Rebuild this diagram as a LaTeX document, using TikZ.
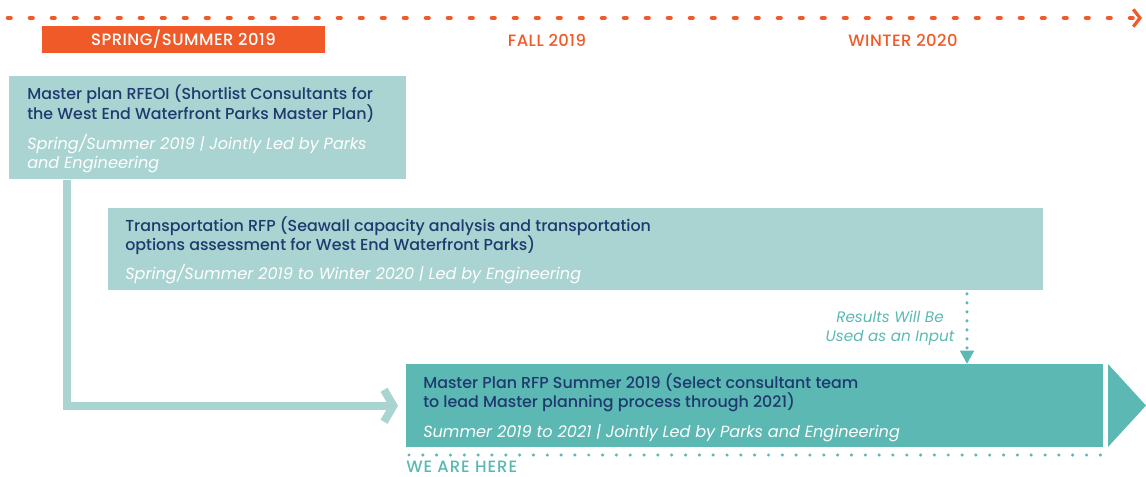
\documentclass[tikz,border=0pt]{standalone}
\usepackage{fontspec}
\setmainfont{Poppins}
\newfontfamily\medfont{Poppins Medium}
\usetikzlibrary{arrows.meta}
\definecolor{orng}{HTML}{F05A28}
\definecolor{paleteal}{HTML}{A9D4D2}
\definecolor{rfpteal}{HTML}{5BB8B3}
\definecolor{navy}{HTML}{1E3A6E}
\tikzset{
  box/.style={anchor=north west, inner sep=0pt},
  title/.style={anchor=base west, inner sep=0pt, text=navy, font=\medfont\fontsize{11.9}{15}\selectfont},
  when/.style={anchor=base west, inner sep=0pt, text=white, font=\fontsize{12.1}{15}\selectfont\itshape},
  season/.style={text=orng, font=\medfont\fontsize{12.3}{14}\selectfont\addfontfeatures{LetterSpace=3}},
  feed/.style={paleteal, line width=6pt, -{Straight Barb[length=7pt,width=24pt]}},
  inputlink/.style={rfpteal, line width=2.6pt, line cap=round, dash pattern=on 0pt off 6.75pt, -{Triangle[length=10pt,width=10pt]}},
}
\begin{document}
\begin{tikzpicture}[x=0.75pt,y=-0.75pt]
  \useasboundingbox (0,0) rectangle (1146,476);
  % timeline
  \coordinate (t0) at (8,18);
  \coordinate (t1) at (1142,18);
  \draw[orng, line width=3.4pt, line cap=round, dash pattern=on 1.9pt off 14.6pt,
    -{Straight Barb[length=5pt,width=13pt,line width=2.4pt]}] (t0) -- (t1);
  \node[fill=orng, text=white, inner sep=0pt, minimum width={283*0.75pt}, minimum height={27*0.75pt},
    font=\medfont\fontsize{12.3}{14}\selectfont\addfontfeatures{LetterSpace=3}] (spring) at (183.5,39.5) {SPRING/SUMMER 2019};
  \node[season] (fall) at (547,40) {FALL 2019};
  \node[season] (winter) at (903,40) {WINTER 2020};
  % boxes
  \node[box, fill=paleteal, minimum width={397*0.75pt}, minimum height={103*0.75pt}] (rfeoi) at (9,76) {};
  \node[title] (rfeoi1) at (27,99) {Master plan RFEOI (Shortlist Consultants for};
  \node[title] (rfeoi2) at (27,119) {the West End Waterfront Parks Master Plan)};
  \node[when] (rfeoi3) at (27,149) {Spring/Summer 2019 | Jointly Led by Parks};
  \node[when] (rfeoi4) at (27,168) {and Engineering};
  \node[box, fill=paleteal, minimum width={935*0.75pt}, minimum height={82*0.75pt}] (trans) at (108,208) {};
  \node[title] (trans1) at (125,231) {Transportation RFP (Seawall capacity analysis and transportation};
  \node[title] (trans2) at (125,250) {options assessment for West End Waterfront Parks)};
  \node[when] (trans3) at (125,279) {Spring/Summer 2019 to Winter 2020 | Led by Engineering};
  \node[box, fill=rfpteal, minimum width={697*0.75pt}, minimum height={83*0.75pt}] (rfp) at (406,364) {};
  \node[title] (rfp1) at (423,388) {Master Plan RFP Summer 2019 (Select consultant team};
  \node[title] (rfp2) at (423,407) {to lead Master planning process through 2021)};
  \node[when] (rfp3) at (423,437) {Summer 2019 to 2021 | Jointly Led by Parks and Engineering};
  \fill[rfpteal] (1108,364) -- (1146,405.5) -- (1108,447) -- cycle;
  % links
  \coordinate (drop) at (67,0);
  \draw[feed, shorten >=6pt] (rfeoi.south -| drop) |- (rfp.west);
  \coordinate (tap) at (967,0);
  \draw[inputlink] ([yshift=-2.5pt]trans.south -| tap) -- (rfp.north -| tap);
  \node[text=rfpteal, align=center, font=\fontsize{11.4}{14.2}\selectfont\itshape] (note) at (890,328) {Results Will Be\\Used as an Input};
  % we are here
  \coordinate (here0) at (409,455);
  \coordinate (here1) at (1102,455);
  \draw[rfpteal, line width=2.6pt, line cap=round, dash pattern=on 0pt off 10.37pt] (here0) -- (here1);
  \node[anchor=base west, inner sep=0pt, text=rfpteal, font=\medfont\fontsize{12.3}{14}\selectfont\addfontfeatures{LetterSpace=6}] (here) at (406,472) {WE ARE HERE};
\end{tikzpicture}
\end{document}
